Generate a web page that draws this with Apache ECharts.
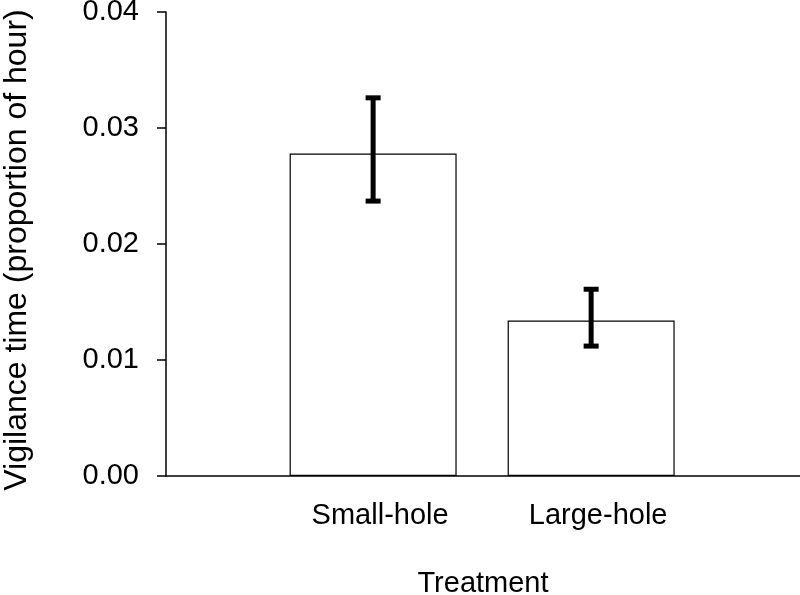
<!DOCTYPE html>
<html>
<head>
<meta charset="utf-8">
<script src="https://cdn.jsdelivr.net/npm/echarts@6/dist/echarts.min.js"></script>
<style>html,body{margin:0;padding:0;background:#fff}#c{width:800px;height:595px}</style>
</head>
<body>
<div id="c"></div>
<script>
const categories = ['Small-hole', 'Large-hole'];
const xPositions = [1, 2];
const means = [0.0278, 0.0134];
const errLow = [0.0237, 0.0112];
const errHigh = [0.0326, 0.0161];
const yTicks = [0, 0.01, 0.02, 0.03, 0.04];

const FONT = 'Liberation Sans, Arial, sans-serif';
const chart = echarts.init(document.getElementById('c'), null, {renderer: 'canvas'});

const barData = xPositions.map((x, i) => [x, means[i]]);
const errData = xPositions.map((x, i) => [x, errLow[i], errHigh[i]]);

chart.setOption({
  animation: false,
  backgroundColor: '#fff',
  grid: {left: 166, right: 0, top: 12, bottom: 119, containLabel: false, outerBoundsMode: 'none'},
  xAxis: {
    type: 'value',
    min: 0.05,
    max: 2.958,
    splitLine: {show: false},
    axisLine: {show: true, onZero: false, lineStyle: {color: '#000', width: 1.5}},
    axisTick: {show: false},
    axisLabel: {
      customValues: xPositions,
      formatter: v => categories[xPositions.indexOf(v)] || '',
      color: '#000', fontFamily: FONT, fontSize: 29, margin: 25,
      padding: [0, 0, 0, 14]
    },
    name: 'Treatment',
    nameLocation: 'middle',
    nameGap: 93,
    nameTextStyle: {color: '#000', fontFamily: FONT, fontSize: 29}
  },
  yAxis: {
    type: 'value',
    min: yTicks[0],
    max: yTicks[yTicks.length - 1],
    interval: 0.01,
    splitLine: {show: false},
    axisLine: {show: true, lineStyle: {color: '#000', width: 1.5}},
    axisTick: {show: true, inside: false, length: 9, lineStyle: {color: '#000', width: 1.5}},
    axisLabel: {
      formatter: v => v.toFixed(2),
      color: '#000', fontFamily: FONT, fontSize: 29, margin: 27
    },
    name: 'Vigilance time (proportion of hour)',
    nameLocation: 'middle',
    nameGap: 133,
    nameTextStyle: {color: '#000', fontFamily: FONT, fontSize: 32, padding: [0, 12, 0, 0]}
  },
  series: [
    {
      type: 'bar',
      data: barData,
      barWidth: 167,
      itemStyle: {color: '#fff', borderColor: '#000', borderWidth: 1.2},
      z: 2
    },
    {
      type: 'custom',
      data: errData,
      z: 5,
      renderItem: function (params, api) {
        const x = api.value(0);
        const lo = api.coord([x, api.value(1)]);
        const hi = api.coord([x, api.value(2)]);
        const half = 7.5;
        const style = {stroke: '#000', lineWidth: 5};
        return {
          type: 'group',
          children: [
            {type: 'line', shape: {x1: lo[0], y1: lo[1], x2: hi[0], y2: hi[1]}, style: style},
            {type: 'line', shape: {x1: hi[0] - half, y1: hi[1], x2: hi[0] + half, y2: hi[1]}, style: style},
            {type: 'line', shape: {x1: lo[0] - half, y1: lo[1], x2: lo[0] + half, y2: lo[1]}, style: style}
          ]
        };
      }
    }
  ]
});
</script>
</body>
</html>
